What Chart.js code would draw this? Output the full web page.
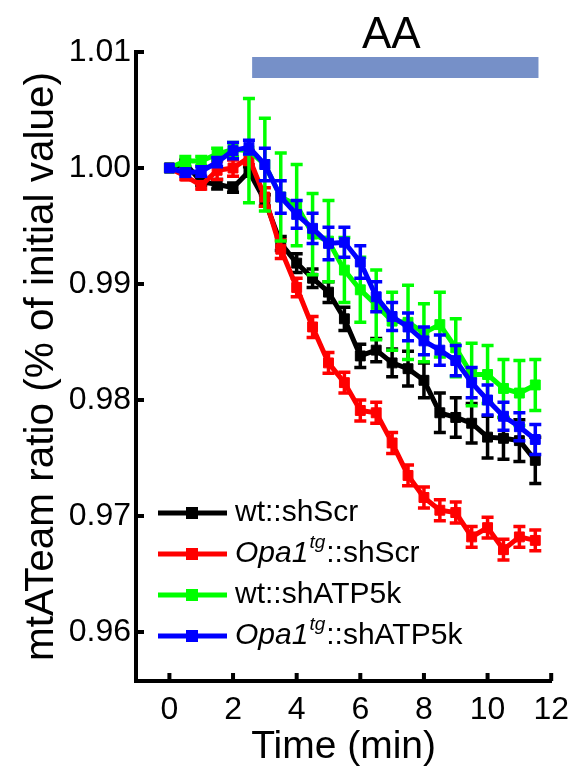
<!DOCTYPE html>
<html>
<head>
<meta charset="utf-8">
<script src="https://cdn.jsdelivr.net/npm/chart.js@4.4.1/dist/chart.umd.min.js"></script>
<style>
  html, body { margin: 0; padding: 0; background: #fff; }
  canvas { display: block; }
</style>
</head>
<body>
<canvas id="chart" width="579" height="771"></canvas>
<script>
// time points (min)
const times = [0, 0.5, 1, 1.5, 2, 2.5, 3, 3.5, 4, 4.5, 5, 5.5, 6, 6.5, 7, 7.5, 8, 8.5, 9, 9.5, 10, 10.5, 11, 11.5];

// wt::shScr
const wtScr = [1.0000, 1.0004, 0.9988, 0.9986, 0.9983, 0.9997, 0.9972, 0.9935, 0.9918, 0.9905, 0.9893, 0.9870,
               0.9838, 0.9843, 0.9832, 0.9827, 0.9817, 0.9789, 0.9785, 0.9780, 0.9768, 0.9767, 0.9765, 0.9748];
const wtScrErr = [0, 0.0003, 0.0003, 0.0004, 0.0004, 0.0004, 0.0005, 0.0006, 0.0008, 0.0008, 0.0009, 0.0010,
                  0.0010, 0.0010, 0.0012, 0.0015, 0.0015, 0.0017, 0.0017, 0.0017, 0.0018, 0.0018, 0.0018, 0.0020];

// Opa1tg::shScr
const opaScr = [1.0000, 0.9993, 0.9985, 0.9998, 1.0000, 1.0009, 0.9975, 0.9930, 0.9897, 0.9863, 0.9832, 0.9815,
                0.9791, 0.9789, 0.9763, 0.9735, 0.9716, 0.9705, 0.9703, 0.9682, 0.9690, 0.9671, 0.9682, 0.9679];
const opaScrErr = [0, 0.0003, 0.0003, 0.0008, 0.0007, 0.0006, 0.0008, 0.0008, 0.0008, 0.0009, 0.0009, 0.0009,
                   0.0009, 0.0009, 0.0009, 0.0009, 0.0009, 0.0009, 0.0009, 0.0009, 0.0009, 0.0009, 0.0009, 0.0009];

// wt::shATP5k
const wtAtp = [1.0000, 1.0006, 1.0006, 1.0012, 1.0016, 1.0015, 1.0003, 0.9975, 0.9968, 0.9943, 0.9937, 0.9912,
               0.9895, 0.9882, 0.9868, 0.9867, 0.9858, 0.9865, 0.9845, 0.9822, 0.9822, 0.9810, 0.9806, 0.9813];
const wtAtpErr = [0, 0.0004, 0.0004, 0.0005, 0.0006, 0.0045, 0.0040, 0.0038, 0.0035, 0.0035, 0.0035, 0.0028,
                  0.0028, 0.0030, 0.0025, 0.0032, 0.0025, 0.0028, 0.0025, 0.0027, 0.0025, 0.0025, 0.0028, 0.0022];

// Opa1tg::shATP5k
const opaAtp = [1.0000, 0.9996, 0.9997, 1.0005, 1.0015, 1.0018, 1.0003, 0.9975, 0.9960, 0.9948, 0.9935, 0.9936,
                0.9919, 0.9889, 0.9872, 0.9863, 0.9851, 0.9843, 0.9834, 0.9815, 0.9800, 0.9786, 0.9777, 0.9766];
const opaAtpErr = [0, 0.0003, 0.0004, 0.0004, 0.0007, 0.0006, 0.0014, 0.0014, 0.0012, 0.0013, 0.0014, 0.0013,
                   0.0014, 0.0013, 0.0012, 0.0012, 0.0012, 0.0013, 0.0013, 0.0013, 0.0013, 0.0012, 0.0012, 0.0013];

const xTicks = [0, 2, 4, 6, 8, 10, 12];
const yTicks = [0.96, 0.97, 0.98, 0.99, 1.00, 1.01];
const aaPeriod = [2.6, 11.6];
const aaLabel = "AA";

const FONT = "'Liberation Sans', Arial, Helvetica, sans-serif";
Chart.defaults.font.family = FONT;
Chart.defaults.color = "#000";

function pts(ys) {
  return ys.map((y, i) => ({ x: times[i], y: y }));
}

function series(label, ys, errs, color, order) {
  return {
    label: label,
    data: pts(ys),
    errs: errs,
    borderColor: color,
    backgroundColor: color,
    borderWidth: 5,
    pointStyle: "rect",
    pointRadius: 7,
    pointBorderWidth: 1,
    pointBackgroundColor: color,
    pointBorderColor: color,
    order: order,
  };
}

// legend rows: italic part, superscript, plain part
const legendRows = [
  { color: "#000000", it: "", sup: "", txt: "wt::shScr" },
  { color: "#ff0000", it: "Opa1", sup: "tg", txt: "::shScr" },
  { color: "#00ff00", it: "", sup: "", txt: "wt::shATP5k" },
  { color: "#0000ff", it: "Opa1", sup: "tg", txt: "::shATP5k" },
];

const errorBars = {
  id: "errorBars",
  beforeDatasetDraw(chart, args) {
    const ds = chart.data.datasets[args.index];
    const y = chart.scales.y, x = chart.scales.x;
    const ctx = chart.ctx;
    ctx.save();
    ctx.strokeStyle = ds.borderColor;
    ctx.lineWidth = 3.5;
    ds.data.forEach((p, i) => {
      const e = ds.errs[i];
      if (!e) return;
      const px = x.getPixelForValue(p.x);
      const top = y.getPixelForValue(p.y + e);
      const bot = y.getPixelForValue(p.y - e);
      ctx.beginPath();
      ctx.moveTo(px, top); ctx.lineTo(px, bot);
      ctx.moveTo(px - 6, top); ctx.lineTo(px + 6, top);
      ctx.moveTo(px - 6, bot); ctx.lineTo(px + 6, bot);
      ctx.stroke();
    });
    ctx.restore();
  },
};

const decorations = {
  id: "decorations",
  afterDraw(chart) {
    const ctx = chart.ctx;
    const x = chart.scales.x, y = chart.scales.y;
    const area = chart.chartArea;
    ctx.save();

    // inward ticks
    ctx.strokeStyle = "#000";
    ctx.lineWidth = 4;
    ctx.beginPath();
    xTicks.forEach(v => {
      const px = x.getPixelForValue(v);
      ctx.moveTo(px, area.bottom); ctx.lineTo(px, area.bottom - 8);
    });
    yTicks.forEach(v => {
      const py = y.getPixelForValue(v);
      ctx.moveTo(area.left, py); ctx.lineTo(area.left + 8, py);
    });
    ctx.stroke();

    // AA bar
    const x0 = x.getPixelForValue(aaPeriod[0]);
    const x1 = x.getPixelForValue(aaPeriod[1]);
    ctx.fillStyle = "#7690c8";
    ctx.fillRect(x0, 57, x1 - x0, 21);
    ctx.fillStyle = "#000";
    ctx.font = "44px " + FONT;
    ctx.textAlign = "center";
    ctx.textBaseline = "alphabetic";
    ctx.fillText(aaLabel, (x0 + x1) / 2 - 4, 48);

    // legend
    ctx.textAlign = "left";
    ctx.textBaseline = "middle";
    legendRows.forEach((r, i) => {
      const ly = 513 + i * 41;
      ctx.strokeStyle = r.color;
      ctx.lineWidth = 5;
      ctx.beginPath();
      ctx.moveTo(158, ly); ctx.lineTo(227, ly);
      ctx.stroke();
      ctx.fillStyle = r.color;
      ctx.fillRect(186, ly - 6, 12, 12);
      ctx.fillStyle = "#000";
      let tx = 235;
      if (r.it) {
        ctx.font = "italic 30px " + FONT;
        ctx.fillText(r.it, tx, ly);
        tx += ctx.measureText(r.it).width + 1;
        ctx.font = "italic 19px " + FONT;
        ctx.fillText(r.sup, tx, ly - 11);
        tx += ctx.measureText(r.sup).width + 1;
      }
      ctx.font = "30px " + FONT;
      ctx.fillText(r.txt, tx, ly);
    });
    ctx.restore();
  },
};

new Chart("chart", {
  type: "line",
  data: {
    datasets: [
      series("wt::shScr", wtScr, wtScrErr, "#000000", 3),
      series("Opa1tg::shScr", opaScr, opaScrErr, "#ff0000", 2),
      series("wt::shATP5k", wtAtp, wtAtpErr, "#00ff00", 1),
      series("Opa1tg::shATP5k", opaAtp, opaAtpErr, "#0000ff", 0),
    ],
  },
  options: {
    responsive: false,
    animation: false,
    devicePixelRatio: 1,
    layout: { padding: { left: 0, right: 26, top: 52, bottom: 0 } },
    plugins: {
      legend: { display: false },
      tooltip: { enabled: false },
    },
    scales: {
      x: {
        type: "linear",
        min: -1.05,
        max: 12,
        afterBuildTicks: s => { s.ticks = xTicks.map(v => ({ value: v })); },
        afterFit: s => { s.height = 90; },
        grid: { display: true, drawOnChartArea: false, drawTicks: false },
        border: { display: true, color: "#000", width: 4 },
        ticks: { font: { size: 32 }, padding: 10, maxRotation: 0 },
        title: { display: true, text: "Time (min)", font: { size: 39 }, padding: { top: 0, bottom: 0 } },
      },
      y: {
        type: "linear",
        min: 0.95578,
        max: 1.01,
        afterBuildTicks: s => { s.ticks = yTicks.map(v => ({ value: v })); },
        afterFit: s => { s.width = 136; },
        grid: { display: true, drawOnChartArea: false, drawTicks: false },
        border: { display: true, color: "#000", width: 4 },
        ticks: { font: { size: 32 }, padding: 5, callback: v => v.toFixed(2) },
        title: { display: true, text: "mtATeam ratio (% of initial value)", font: { size: 40.5 }, padding: { top: 18, bottom: 0 } },
      },
    },
  },
  plugins: [errorBars, decorations],
});
</script>
</body>
</html>
